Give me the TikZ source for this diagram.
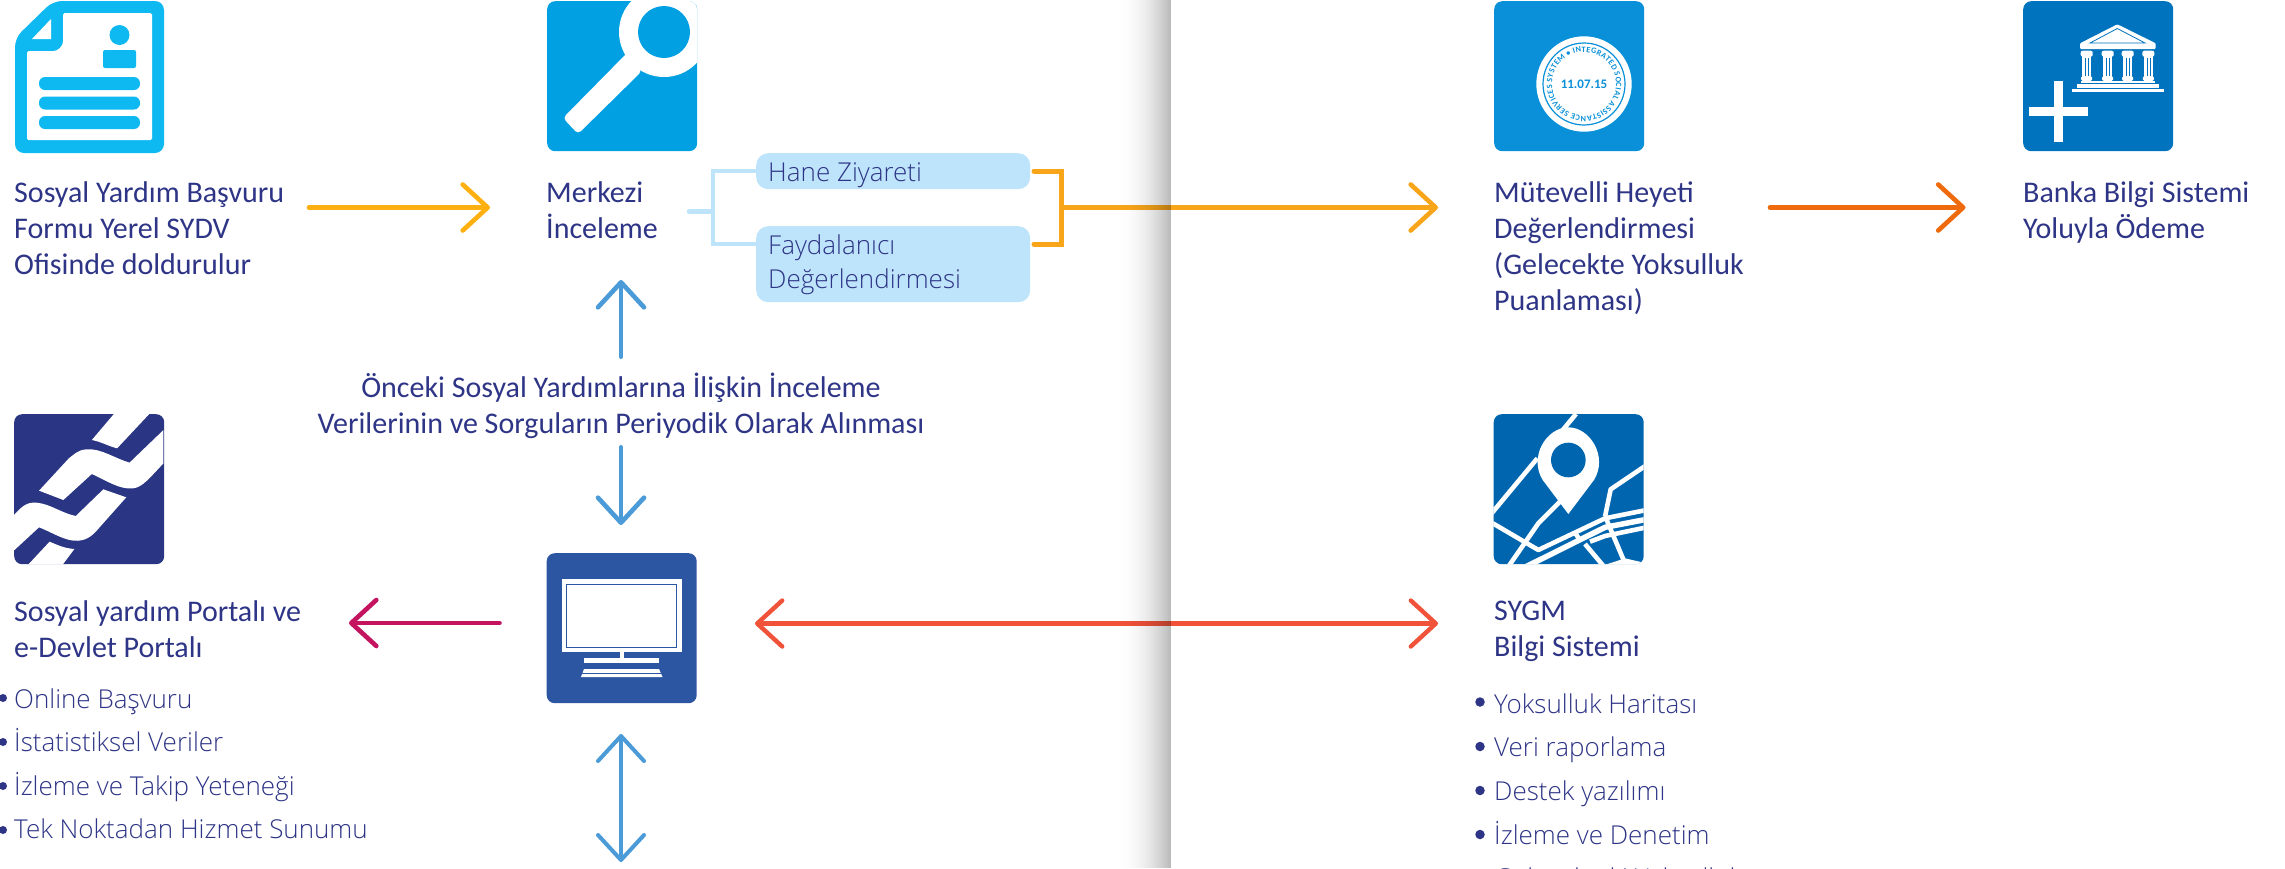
\documentclass[tikz,border=0pt]{standalone}
\usepackage{fontspec}
\usetikzlibrary{arrows.meta,decorations.text,calc}
\setmainfont{Carlito}
\newfontfamily\lightfont{Open Sans Light}
\definecolor{txt}{HTML}{2E3586}
\definecolor{cyanicon}{HTML}{0DB9F0}
\definecolor{magbox}{HTML}{00A0E3}
\definecolor{stampbox}{HTML}{0990D8}
\definecolor{bankbox}{HTML}{0073BE}
\definecolor{mapbox}{HTML}{0065AF}
\definecolor{chainbox}{HTML}{2A3583}
\definecolor{monbox}{HTML}{2C56A1}
\definecolor{paleblue}{HTML}{BEE4FB}
\definecolor{yellowline}{HTML}{FDB00F}
\definecolor{orangeline}{HTML}{F9A51A}
\definecolor{deeporange}{HTML}{EE6A0C}
\definecolor{midblue}{HTML}{4A9BD8}
\definecolor{magentaline}{HTML}{C4145F}
\definecolor{redline}{HTML}{F0523A}
\tikzset{
  x=1pt,y=-1pt,
  iconbox/.style={rounded corners=8pt,inner sep=0,minimum width=150pt,minimum height=150pt,anchor=north west},
  lbl/.style={text=txt,inner sep=0,anchor=north west,align=left,font=\fontsize{30}{36}\selectfont},
  lightlbl/.style={text=txt,inner sep=0,anchor=base west,font=\lightfont\fontsize{26}{30}\selectfont},
  bull/.style={circle,fill=txt,inner sep=0,minimum size=8pt},
  bullr/.style={circle,fill=txt,inner sep=0,minimum size=9.5pt},
  palebox/.style={fill=paleblue,rounded corners=12pt,inner sep=0,anchor=north west},
  arr/.style={line width=4.6pt,line cap=round,-{Straight Barb[length=25pt,width=46pt,line width=4.6pt,round]}},
  arrb/.style={line width=4pt,line cap=round,{Straight Barb[length=25pt,width=46pt,line width=4pt,round]}-{Straight Barb[length=25pt,width=46pt,line width=4pt,round]}},
}
\begin{document}
\begin{tikzpicture}
\useasboundingbox (0,0) rectangle (2285,868);
\fill[white] (0,0) rectangle (2285,868);

% --- document icon
\fill[cyanicon,rounded corners=9pt] (53,1) -- (164,1) -- (164,153) -- (15,153) -- (15,38) -- cycle;
\fill[white,rounded corners=1.5pt] (63,13) -- (152,13) -- (152,140) -- (27,140) -- (27,51) -- (52,51) to[out=0,in=-90] (63,40) -- cycle;
\fill[white] (51,19) -- (51,39) -- (32,39) -- cycle;
\fill[cyanicon] (119.5,35) circle (10);
\fill[cyanicon,rounded corners=2pt] (103,68) -- (103,50) -- (136,50) -- (136,68) -- cycle;
\fill[cyanicon,rounded corners=6pt] (103,62) -- (103,50) -- (136,50) -- (136,62) -- cycle;
\foreach \yy in {77,96.5,116}
  \fill[cyanicon,rounded corners=6pt] (39,\yy) rectangle (140,\yy+13);

% --- magnifier icon
\node[iconbox,fill=magbox] (magicon) at (547,1) {};
\begin{scope}
  \clip[rounded corners=8pt] (547,1) rectangle (697,151);
  \fill[white] (664,32) circle (45);
  \fill[white,rounded corners=4pt] (628,52) -- (642,71) -- (578,134) -- (563,118) -- cycle;
  \fill[magbox] (664,32) ellipse (26 and 26);
\end{scope}

% --- stamp icon
\node[iconbox,fill=stampbox] (stampicon) at (1494,1) {};
\fill[white] (1584,84) circle (47.7);
\draw[stampbox,line width=1.2pt] (1584,84) circle (41);
\path[decorate,decoration={text along path,text align={fit to path},
  text={|\fontsize{8.2}{9}\selectfont\bfseries\color{stampbox}|• INTEGRATED SOCIAL ASSISTANCE SERVICES SYSTEM }}]
  (1584,84) ++(-121:32) arc[start angle=-121,end angle=235,radius=32];
\node[text=stampbox,inner sep=0,font=\fontsize{13}{15}\selectfont\bfseries] (stampdate) at (1584,84) {11.07.15};

% --- bank icon
\node[iconbox,fill=bankbox] (bankicon) at (2023,1) {};
\fill[white] (2054.3,81) rectangle (2063.3,141.7);
\fill[white] (2029,107.3) rectangle (2088.3,115.7);
\fill[white,rounded corners=1pt] (2117.3,24.3) -- (2155.7,43.3) -- (2155.7,49) -- (2080,49) -- (2080,43.3) -- cycle;
\draw[bankbox,line width=.8pt] (2117.3,28.5) -- (2145,43) -- (2090,43) -- cycle;
\foreach \cx in {2086.7,2107.7,2127.7,2148.3}{
  \fill[white] (\cx-4.4,56) rectangle (\cx+4.4,77);
  \fill[white,rounded corners=2pt] (\cx-6,50.7) rectangle (\cx+6,56.7);
  \fill[white,rounded corners=1.5pt] (\cx-5.5,76) rectangle (\cx+5.5,81);
  \draw[bankbox,line width=.5pt] (\cx-1.5,58) -- (\cx-1.5,76) (\cx+1.5,58) -- (\cx+1.5,76);
}
\fill[white] (2080.7,80.7) rectangle (2155,83.3);
\fill[white] (2076.7,84.3) rectangle (2159,87.7);
\fill[white] (2072,88.5) rectangle (2163.7,91.5);

% --- chain icon
\node[iconbox,fill=chainbox] (chainicon) at (14,414) {};
\begin{scope}[shift={(0,400)},x=0.4592pt,y=-0.3333pt]
  \clip (30,42) rectangle (356,493);
  \fill[white] (248,42) -- (325,42) -- (255,145) .. controls (235,138) and (220,125) .. (200,120) -- cycle;
  \fill[white] (356,90) -- (282,188) .. controls (250,175) and (220,145) .. (190,148) .. controls (170,148) and (160,165) .. (150,175) -- (85,272) -- (138,300) -- (200,222) .. controls (230,240) and (260,270) .. (290,265) .. controls (310,262) and (325,235) .. (356,190) -- cycle;
  \fill[white] (30,345) .. controls (45,325) and (55,305) .. (80,308) .. controls (110,312) and (135,340) .. (165,348) -- (225,268) -- (275,292) -- (215,385) .. controls (200,410) and (185,425) .. (160,422) .. controls (135,418) and (110,395) .. (85,382) -- (30,452) -- cycle;
  \fill[white] (108,425) .. controls (125,435) and (140,445) .. (162,447) -- (137,493) -- (62,493) -- cycle;
\end{scope}

% --- monitor icon
\node[iconbox,fill=monbox] (monicon) at (546.5,553) {};
\fill[white] (562,579) rectangle (681.5,652);
\draw[monbox,line width=1.6pt] (566.5,584.5) rectangle (676.5,647.5);
\fill[white] (620,652) rectangle (623.5,658);
\fill[white] (584,658) rectangle (659,662.5);
\fill[white] (584,669) -- (659,669) -- (662.5,677) -- (581,677) -- cycle;
\draw[monbox,line width=.9pt] (581,673.5) -- (662.5,673.5);

% --- map icon
\node[iconbox,fill=mapbox] (mapicon) at (1493.5,414) {};
\begin{scope}[shift={(1450,400)},x=0.3333pt,y=-0.3333pt]
  \clip[rounded corners=8pt] (130,42) rectangle (581,493);
  \begin{scope}[white,line width=4.6pt,line join=round]
    \draw (378,42) -- (330,100);
    \draw (262,175) -- (125,340);
    \draw (335,300) -- (265,370) -- (175,500);
    \draw (125,368) -- (265,450) -- (465,355) -- (590,330);
    \draw[line width=5.5pt] (228,500) -- (465,382) -- (590,358);
    \draw (590,195) -- (482,268) -- (465,350);
    \draw (468,355) -- (525,490);
    \draw (405,432) -- (462,500);
    \draw (376,400) -- (390,420);
    \draw (420,425) -- (465,408) -- (590,382);
    \fill (470,493) -- (525,475) -- (590,490) -- (590,500) -- (470,500) -- cycle;
  \end{scope}
  \fill[white] (355,342) -- (278,240) .. controls (235,170) and (290,82) .. (355,82) .. controls (420,82) and (475,170) .. (432,240) -- cycle;
  \fill[mapbox] (355,180) circle[radius=52];
\end{scope}

% --- pale boxes
\node[palebox,minimum width=274pt,minimum height=36pt] (hane) at (756,153) {};
\node[palebox,minimum width=274pt,minimum height=76pt] (fayda) at (756,226) {};
\node[lightlbl] (hanetxt) at (768,181) {Hane Ziyareti};
\node[lightlbl] (faydatxt) at (768,254) {Faydalanıcı};
\node[lightlbl] (degertxt) at (768,288.5) {Değerlendirmesi};

% --- labels
\node[lbl] (formlbl) at (14,181) {Sosyal Yardım Başvuru\\Formu Yerel SYDV\\Ofisinde doldurulur};
\node[lbl] (merkezilbl) at (546,181) {Merkezi\\İnceleme};
\node[lbl] (mutevelli) at (1494,181) {Mütevelli Heyeti\\Değerlendirmesi\\(Gelecekte Yoksulluk\\Puanlaması)};
\node[lbl] (bankalbl) at (2023,181) {Banka Bilgi Sistemi\\Yoluyla Ödeme};
\node[lbl,align=center,anchor=north] (midlbl) at (621,372.5) {Önceki Sosyal Yardımlarına İlişkin İnceleme\\Verilerinin ve Sorguların Periyodik Olarak Alınması};
\node[lbl] (portal) at (14,600) {Sosyal yardım Portalı ve\\e-Devlet Portalı};
\node[lbl] (sygm) at (1494,600.5) {SYGM\\Bilgi Sistemi};

% --- left list
\node[lightlbl] (l1) at (14,708) {Online Başvuru};
\node[lightlbl] (l2) at (14,751) {İstatistiksel Veriler};
\node[lightlbl] (l3) at (14,795) {İzleme ve Takip Yeteneği};
\node[lightlbl] (l4) at (14,838) {Tek Noktadan Hizmet Sunumu};
\foreach \nm/\yy in {b1/698,b2/742,b3/786,b4/830}
  \node[bull] (\nm) at (3,\yy) {};

% --- right list
\node[lightlbl] (r1) at (1494,713) {Yoksulluk Haritası};
\node[lightlbl] (r2) at (1494,756) {Veri raporlama};
\node[lightlbl] (r3) at (1494,800) {Destek yazılımı};
\node[lightlbl] (r4) at (1494,844) {İzleme ve Denetim};
\node[lightlbl] (r5) at (1494,887) {Gelecekteki Yoksulluk};
\foreach \nm/\yy in {c1/702,c2/746.5,c3/790.5,c4/834.5}
  \node[bullr] (\nm) at (1480,\yy) {};

% --- connector endpoints
\coordinate (formout) at (309,207.5);
\coordinate (merkin) at (490,207.5);
\coordinate (brk) at (1061.5,207.5);
\coordinate (mutin) at (1438,207.5);
\coordinate (mutout) at (1770,207.5);
\coordinate (bankin) at (1965.5,207.5);
\coordinate (upS) at (621,357);
\coordinate (upE) at (621,280);
\coordinate (dnS) at (621,447);
\coordinate (dnE) at (621,525);
\coordinate (dblS) at (621,734);
\coordinate (dblE) at (621,862);
\coordinate (monL) at (499.5,623);
\coordinate (portalin) at (349,623);
\coordinate (monR) at (755,623.5);
\coordinate (sygmin) at (1438,623.5);
\coordinate (stubL) at (689,211.5);

% --- connectors
\draw[arr,yellowline] (formout) -- (merkin);
\draw[paleblue,line width=4.5pt,line cap=round] (stubL) -- (713,211.5);
\draw[paleblue,line width=4.5pt] (hane.west) -| (713,244) -- (fayda.west |- 0,244);
\draw[arr,orangeline] (brk) -- (mutin);
\draw[orangeline,line width=5pt,line cap=round] (1034,171) -- (1061.5,171) -- (1061.5,244) -- (1034,244);
\draw[arr,deeporange] (mutout) -- (bankin);
\draw[arr,midblue,line width=4pt] (upS) -- (upE);
\draw[arr,midblue,line width=4pt] (dnS) -- (dnE);
\draw[arrb,midblue] (dblS) -- (dblE);
\draw[arr,magentaline] (monL) -- (portalin);
\draw[line width=4.4pt,line cap=round,redline,{Straight Barb[length=25pt,width=46pt,line width=4.4pt,round]}-{Straight Barb[length=25pt,width=46pt,line width=4.4pt,round]}] (monR) -- (sygmin);

% --- fold shadow
\foreach \i in {0,...,55}{
  \pgfmathsetmacro{\op}{0.27*pow((\i+1)/56,2.2)}
  \fill[black,opacity=\op] (1115+\i,0) rectangle (1116+\i,868);
}
\end{tikzpicture}
\end{document}
